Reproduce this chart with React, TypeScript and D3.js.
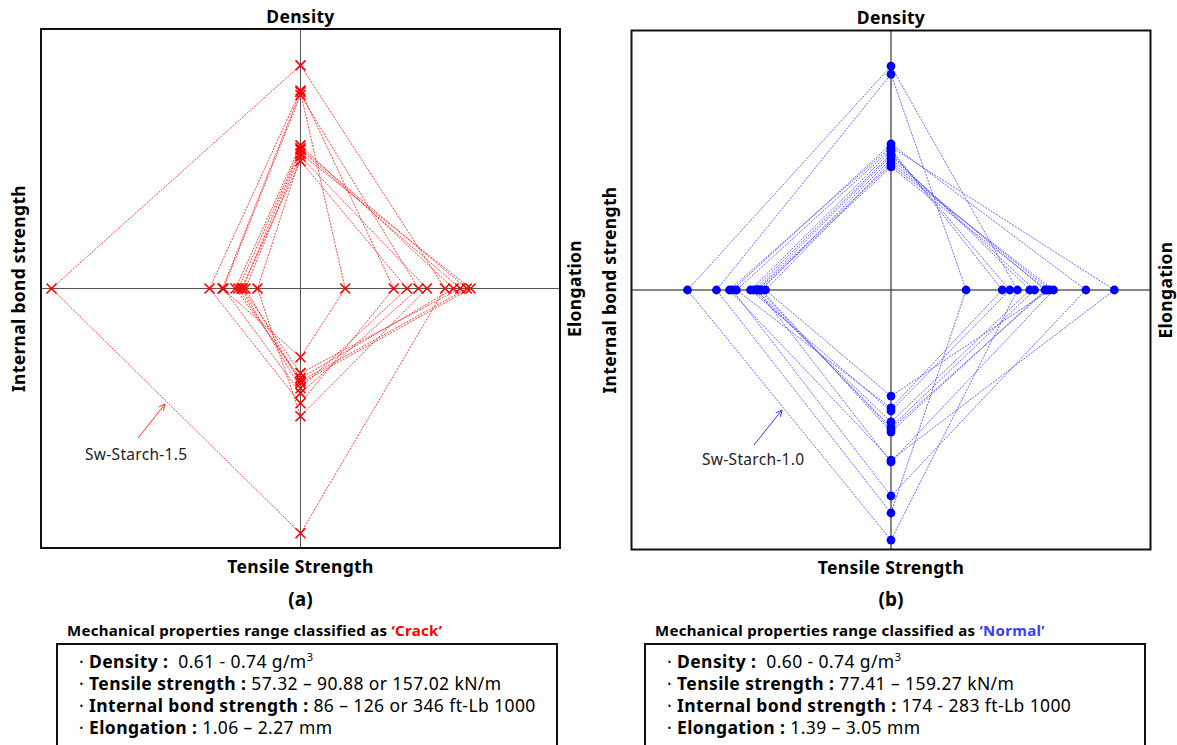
import React from "react";
import * as d3 from "d3";

// (a) samples classified as 'Crack'
const crackDensity = [0.741, 0.707, 0.705, 0.701, 0.633, 0.629, 0.627, 0.622, 0.618, 0.612];
const crackTensile = [156.7, 83.3, 57.3, 77.6, 69.1, 70.8, 66.3, 72.0, 90.6, 74.8];
const crackBond = [343.8, 130.7, 113.2, 111.9, 95.7, 91.6, 86.2, 82.2, 66.0, 87.6];
const crackElong = [2.07, 1.53, 1.02, 1.79, 2.16, 2.3, 2.23, 2.34, 1.88, 1.67];

// (b) samples classified as 'Normal'
const normalDensity = [0.742, 0.731, 0.633, 0.637, 0.63, 0.627, 0.623, 0.621, 0.617, 0.613, 0.609, 0.606];
const normalTensile = [159.7, 144.4, 114.5, 134.8, 85.1, 86.8, 93.0, 95.9, 98.7, 78.4, 115.6, 97.0];
const normalBond = [282.5, 243.4, 225.8, 221.8, 216.4, 197.5, 193.5, 189.4, 182.7, 177.3, 188.1, 185.4];
const normalElong = [1.88, 1.34, 2.9, 2.6, 1.72, 1.8, 2.01, 2.06, 2.17, 2.22, 2.26, 2.19];

// axis domains (center -> edge of the box)
const densityDomain = [0.44, 0.79];
const tensileDomain = [18.5, 165];
const bondDomain = [8, 358];
const elongDomain = [0.55, 3.28];

const crackRanges = [
  ["Density :", "\u00a0 0.61 - 0.74 g/m", "3"],
  ["Tensile strength :", " 57.32 \u2013 90.88 or 157.02 kN/m", ""],
  ["Internal bond strength :", " 86 \u2013 126 or 346 ft-Lb 1000", ""],
  ["Elongation :", " 1.06 \u2013 2.27 mm", ""],
];
const normalRanges = [
  ["Density :", "\u00a0 0.60 - 0.74 g/m", "3"],
  ["Tensile strength :", " 77.41 \u2013 159.27 kN/m", ""],
  ["Internal bond strength :", " 174 - 283 ft-Lb 1000", ""],
  ["Elongation :", " 1.39 \u2013 3.05 mm", ""],
];

const FONT = "'Noto Sans', 'DejaVu Sans', sans-serif";
const R = 259.5;

type PanelProps = {
  cx: number;
  cy: number;
  density: number[];
  tensile: number[];
  bond: number[];
  elong: number[];
  color: string;
  lineColor: string;
  axisColor: string;
  marker: "x" | "dot";
  note: string;
  noteAt: [number, number];
  arrow: [number, number, number, number];
  tag: string;
};

const Panel = (p: PanelProps) => {
  const { cx, cy } = p;
  const yD = d3.scaleLinear().domain(densityDomain).range([cy, cy - R]);
  const yT = d3.scaleLinear().domain(tensileDomain).range([cy, cy + R]);
  const xB = d3.scaleLinear().domain(bondDomain).range([cx, cx - R]);
  const xE = d3.scaleLinear().domain(elongDomain).range([cx, cx + R]);
  const line = d3.line().curve(d3.curveLinearClosed);

  const pts = p.density.map((d, i) => ({
    top: [cx, yD(d)] as [number, number],
    right: [xE(p.elong[i]), cy] as [number, number],
    bottom: [cx, yT(p.tensile[i])] as [number, number],
    left: [xB(p.bond[i]), cy] as [number, number],
  }));
  const markers = pts.flatMap((s) => [s.top, s.right, s.bottom, s.left]);

  const [ax1, ay1, ax2, ay2] = p.arrow;
  const ang = Math.atan2(ay2 - ay1, ax2 - ax1);
  const head = 7;
  const h1 = [ax2 - head * Math.cos(ang - 0.45), ay2 - head * Math.sin(ang - 0.45)];
  const h2 = [ax2 - head * Math.cos(ang + 0.45), ay2 - head * Math.sin(ang + 0.45)];

  const lbl = { fontWeight: "bold", fontSize: 17.5, letterSpacing: 0.3, textAnchor: "middle" } as const;

  return (
    <g>
      <line x1={cx - R} x2={cx + R} y1={cy} y2={cy} stroke={p.axisColor} strokeWidth={1} />
      <line x1={cx} x2={cx} y1={cy - R} y2={cy + R} stroke={p.axisColor} strokeWidth={1} />
      {pts.map((s, i) => (
        <path
          key={i}
          d={line([s.top, s.right, s.bottom, s.left]) || ""}
          fill="none"
          stroke={p.lineColor}
          strokeWidth={0.9}
          strokeDasharray="2 1.2"
        />
      ))}
      {markers.map(([x, y], i) =>
        p.marker === "x" ? (
          <path
            key={i}
            d={`M${x - 5},${y - 5}L${x + 5},${y + 5}M${x - 5},${y + 5}L${x + 5},${y - 5}`}
            stroke={p.color}
            strokeWidth={1.6}
          />
        ) : (
          <circle key={i} cx={x} cy={y} r={4.4} fill={p.color} />
        )
      )}
      <rect x={cx - R} y={cy - R} width={2 * R} height={2 * R} fill="none" stroke="#111" strokeWidth={2} />
      <text x={cx} y={cy - R - 6.5} {...lbl}>Density</text>
      <text x={cx} y={cy + R + 24.5} {...lbl}>Tensile Strength</text>
      <text transform={`translate(${cx - R - 16},${cy}) rotate(-90)`} {...lbl}>
        Internal bond strength
      </text>
      <text transform={`translate(${cx + R + 21},${cy}) rotate(-90)`} {...lbl}>
        Elongation
      </text>
      <text x={p.noteAt[0]} y={p.noteAt[1]} fontSize={15.5} letterSpacing={0.3} fill="#222">{p.note}</text>
      <g stroke={p.color} strokeWidth={1} fill="none" opacity={0.8}>
        <line x1={ax1} y1={ay1} x2={ax2} y2={ay2} />
        <polyline points={`${h1[0]},${h1[1]} ${ax2},${ay2} ${h2[0]},${h2[1]}`} />
      </g>
      <text x={cx} y={606} textAnchor="middle" fontWeight="bold" fontSize={19}>{p.tag}</text>
    </g>
  );
};

type RangeProps = { x: number; label: string; labelColor: string; rows: string[][] };

const RangeBox = ({ x, label, labelColor, rows }: RangeProps) => (
  <g>
    <text x={x + 10} y={636} fontWeight="bold" fontSize={15} letterSpacing={0.3}>
      Mechanical properties range classified as{" "}
      <tspan fill={labelColor}>{"\u2018" + label + "\u2019"}</tspan>
    </text>
    <rect x={x} y={644} width={500} height={110} fill="none" stroke="#111" strokeWidth={2} />
    {rows.map((r, i) => (
      <text key={i} x={x + 22} y={668 + i * 22} fontSize={17.5} letterSpacing={0.4}>
        {"\u00b7 "}
        <tspan fontWeight="bold">{r[0]}</tspan>
        <tspan>{r[1]}</tspan>
        {r[2] ? <tspan dy={-7} fontSize={11}>{r[2]}</tspan> : null}
      </text>
    ))}
  </g>
);

const App = () => (
  <svg
    width={1177}
    height={745}
    style={{ position: "absolute", left: 0, top: 0, background: "#fff", fontFamily: FONT }}
  >
    <Panel
      cx={300.5}
      cy={288.5}
      density={crackDensity}
      tensile={crackTensile}
      bond={crackBond}
      elong={crackElong}
      color="#ff0000"
      lineColor="#ff2a2a"
      axisColor="#555"
      marker="x"
      note="Sw-Starch-1.5"
      noteAt={[85, 460]}
      arrow={[138, 438, 165, 404]}
      tag="(a)"
    />
    <Panel
      cx={891}
      cy={290}
      density={normalDensity}
      tensile={normalTensile}
      bond={normalBond}
      elong={normalElong}
      color="#0000ff"
      lineColor="#5555ff"
      axisColor="#111"
      marker="dot"
      note="Sw-Starch-1.0"
      noteAt={[702, 465]}
      arrow={[754, 445, 782, 410]}
      tag="(b)"
    />
    <RangeBox x={57} label="Crack" labelColor="#ff0000" rows={crackRanges} />
    <RangeBox x={645} label="Normal" labelColor="#3c3cff" rows={normalRanges} />
  </svg>
);

export default App;
